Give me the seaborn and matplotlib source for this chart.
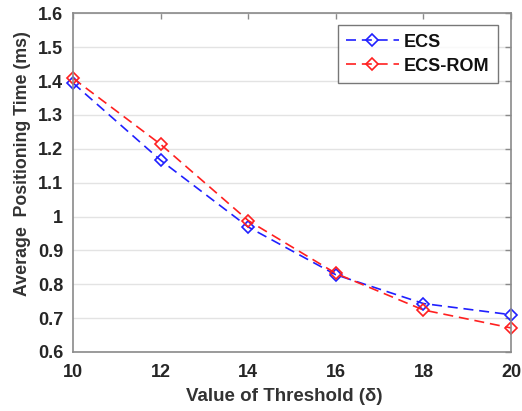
import matplotlib
matplotlib.use("Agg")
import matplotlib.pyplot as plt
import pandas as pd
import seaborn as sns

thresholds = [10, 12, 14, 16, 18, 20]
ecs = [1.394, 1.166, 0.969, 0.828, 0.743, 0.710]
ecs_rom = [1.408, 1.213, 0.988, 0.832, 0.724, 0.671]
series_names = ["ECS", "ECS-ROM"]

df = pd.DataFrame({
    "Threshold": thresholds * 2,
    "Time": ecs + ecs_rom,
    "Method": ["ECS"] * len(ecs) + ["ECS-ROM"] * len(ecs_rom),
})

sns.set_style("white")
plt.rcParams["font.family"] = ["Liberation Sans", "DejaVu Sans"]
plt.rcParams["font.weight"] = "bold"

fig = plt.figure(figsize=(5.22, 4.11), dpi=100)
ax = fig.add_axes([0.140, 0.1436, 0.839, 0.824])

colors = {"ECS": "#2020ff", "ECS-ROM": "#ff2020"}
sns.lineplot(data=df, x="Threshold", y="Time", hue="Method", style="Method",
             palette=colors, markers={"ECS": "D", "ECS-ROM": "D"},
             dashes={"ECS": (6, 3.5), "ECS-ROM": (6, 3.5)},
             linewidth=1.2, markersize=6, legend=False, ax=ax)

for line in ax.lines:
    line.set_markeredgecolor(line.get_color())
    line.set_markerfacecolor("none")
    line.set_markeredgewidth(1.2)
    line.set_clip_on(False)

ax.set_xlim(10, 20)
ax.set_ylim(0.6, 1.6)
ax.set_xticks(thresholds)
ax.set_yticks([0.6, 0.7, 0.8, 0.9, 1.0, 1.1, 1.2, 1.3, 1.4, 1.5, 1.6])
ax.set_yticklabels(["0.6", "0.7", "0.8", "0.9", "1", "1.1", "1.2", "1.3", "1.4", "1.5", "1.6"])
ax.yaxis.grid(True, color="#e3e3e3", linewidth=1)
ax.xaxis.grid(False)
ax.set_axisbelow(True)

for s in ax.spines.values():
    s.set_color("#8a8a8a")
    s.set_linewidth(1.2)
ax.tick_params(direction="in", length=4, width=1, color="#8a8a8a",
               top=True, right=True, labelsize=13, labelcolor="#262626", pad=7)
ax.tick_params(axis="x", pad=9)
for lbl in ax.get_xticklabels() + ax.get_yticklabels():
    lbl.set_fontweight("bold")

ax.set_xlabel("Value of Threshold (δ)", fontsize=13.5, fontweight="bold",
              color="#333333")
ax.set_ylabel("Average  Positioning Time (ms)", fontsize=12.8, fontweight="bold",
              color="#333333")
ax.xaxis.set_label_coords(0.483, -0.106)
ax.yaxis.set_label_coords(-0.097, 0.556)

leg = ax.legend(handles=ax.lines[:2], labels=series_names, loc="upper right",
                bbox_to_anchor=(0.978, 0.975), fancybox=False, frameon=True,
                prop={"weight": "bold", "size": 13}, handlelength=2.9,
                handletextpad=0.3, borderpad=0.45, labelspacing=0.4,
                borderaxespad=0.2)
leg.get_frame().set_edgecolor("#555555")
leg.get_frame().set_linewidth(1)
for t in leg.get_texts():
    t.set_color("#111111")

fig.savefig("out.png", dpi=100)
